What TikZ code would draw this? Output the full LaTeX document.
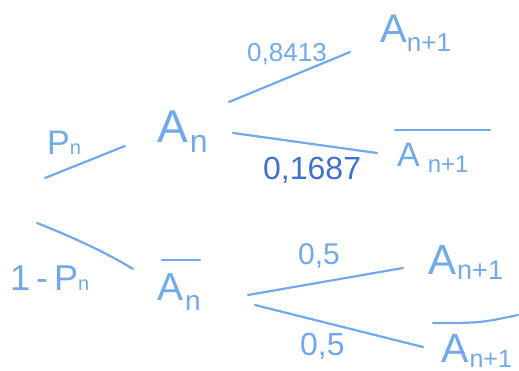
\documentclass[tikz,border=0pt]{standalone}
\usepackage{fontspec}
\setmainfont{Liberation Sans}
\definecolor{pen}{RGB}{112,170,234}
\definecolor{pendark}{RGB}{62,112,214}
\newcommand\ev[5]{{\fontsize{#1}{#1}\selectfont A}\hspace{#5pt}\raisebox{-#4pt}{\fontsize{#3}{#3}\selectfont #2}}
\begin{document}
\begin{tikzpicture}[x=1pt,y=-1pt,
  ink/.style={draw=pen,line width=2.2pt,line cap=round,line join=round},
  txt/.style={inner sep=0pt,anchor=base west,text=pen}]
\useasboundingbox (0,0) rectangle (519,371);
% events
\node[txt] (An) at (157,143) {\ev{46}{n}{32}{10}{2}};
\node[txt] (Bn) at (157,300) {\ev{39}{n}{28}{10}{2}};
\node[txt] (A1) at (380,43) {\ev{40}{n+1}{26}{9}{0}};
\node[txt] (B1) at (397,167) {\ev{34}{n+1}{24}{6}{8}};
\node[txt] (C1) at (428,275) {\ev{42}{n+1}{27}{5}{1}};
\node[txt] (D1) at (441,362) {\ev{41}{n+1}{25}{5}{1}};
% probabilities
\node[txt] (pn) at (47,155) {{\fontsize{34}{34}\selectfont P}{\fontsize{20}{20}\selectfont n}};
\node[txt] (qn) at (10,290) {{\fontsize{36}{36}\selectfont 1\,-\,P}{\fontsize{20}{20}\selectfont n}};
\node[txt] (p1) at (247,62) {\fontsize{26}{26}\selectfont 0,8413};
\node[txt,text=pendark] (p2) at (263,180) {\fontsize{32}{32}\selectfont 0,1687};
\node[txt] (p3) at (298,265) {\fontsize{30}{30}\selectfont 0,5};
\node[txt] (p4) at (300,355) {\fontsize{32}{32}\selectfont 0,5};
% branch end points
\coordinate (r1) at (45,178);  \coordinate (r2) at (125,146);
\coordinate (s1) at (37,223);  \coordinate (s2) at (133,269);
\coordinate (u1) at (229,102); \coordinate (u2) at (350,52);
\coordinate (v1) at (233,133); \coordinate (v2) at (377,153);
\coordinate (w1) at (248,295); \coordinate (w2) at (403,268);
\coordinate (z1) at (255,305); \coordinate (z2) at (423,347);
% overlines
\coordinate (o1) at (162,260); \coordinate (o2) at (200,260);
\coordinate (o3) at (395,130); \coordinate (o4) at (490,130);
\coordinate (o5) at (433,323); \coordinate (o6) at (518,315);
\draw[ink] (r1) -- (r2);
\draw[ink] (s1) .. controls (80,240) and (112,256) .. (s2);
\draw[ink] (u1) -- (u2);
\draw[ink] (v1) -- (v2);
\draw[ink] (w1) -- (w2);
\draw[ink] (z1) -- (z2);
\draw[ink] (o1) -- (o2);
\draw[ink] (o3) -- (o4);
\draw[ink] (o5) .. controls (480,323) .. (o6);
\end{tikzpicture}
\end{document}
